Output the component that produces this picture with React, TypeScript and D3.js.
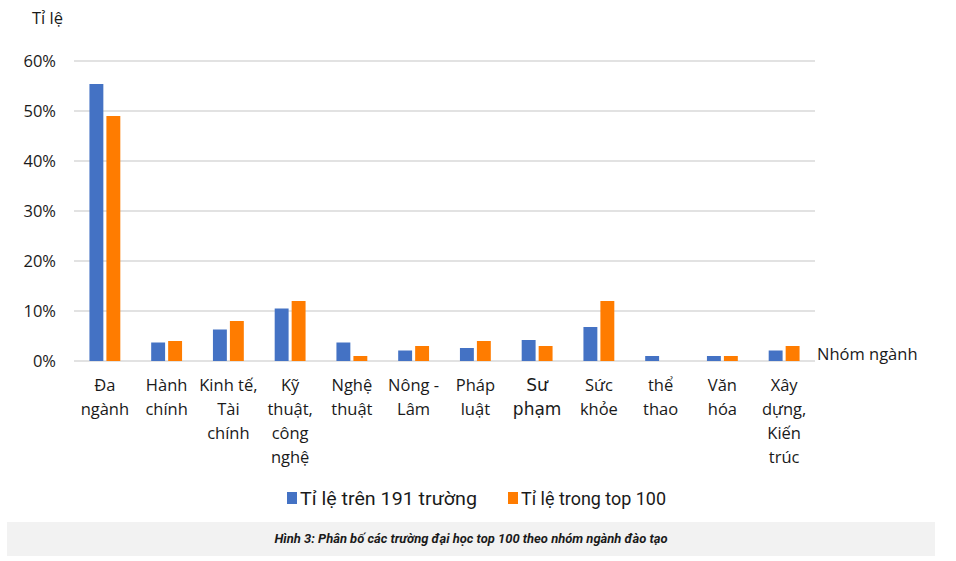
import { useEffect, useRef } from 'react';
import * as d3 from 'd3';

const CATEGORIES = [
  'Đa\nngành',
  'Hành\nchính',
  'Kinh tế,\nTài\nchính',
  'Kỹ\nthuật,\ncông\nnghệ',
  'Nghệ\nthuật',
  'Nông -\nLâm',
  'Pháp\nluật',
  'Sư\nphạm',
  'Sức\nkhỏe',
  'thể\nthao',
  'Văn\nhóa',
  'Xây\ndựng,\nKiến\ntrúc',
];

const SERIES = ['Tỉ lệ trên 191 trường', 'Tỉ lệ trong top 100'];
const ALL_191 = [55.4, 3.7, 6.3, 10.5, 3.7, 2.1, 2.6, 4.2, 6.8, 1.0, 1.0, 2.1];
const TOP_100 = [49, 4, 8, 12, 1, 3, 4, 3, 12, 0, 1, 3];
const Y_TICKS = [0, 10, 20, 30, 40, 50, 60];

const COLORS = ['#4472C4', '#FF7C00'];
const CAPTION = 'Hình 3: Phân bố các trường đại học top 100 theo nhóm ngành đào tạo';

const W = 956;
const H = 561;

export default function App() {
  const svgRef = useRef<SVGSVGElement>(null);

  useEffect(() => {
    const svg = d3.select(svgRef.current);
    if (!svg.node()) return;
    svg.selectAll('*').remove();

    const left = 74;
    const right = 815;
    const top = 61;
    const bottom = 361;
    const font = "'Open Sans', 'Noto Sans', sans-serif";
    const ink = '#1a1a1a';

    const x0 = d3.scaleBand<string>().domain(CATEGORIES).range([left, right]).paddingInner(0.5).paddingOuter(0.25);
    const x1 = d3.scaleBand<string>().domain(SERIES).range([0, x0.bandwidth()]).paddingInner(0.18);
    const y = d3.scaleLinear().domain([0, 60]).range([bottom, top]);

    svg.append('rect').attr('width', W).attr('height', H).attr('fill', '#fff');

    // gridlines
    svg
      .append('g')
      .selectAll('line')
      .data(Y_TICKS)
      .join('line')
      .attr('x1', left)
      .attr('x2', right)
      .attr('y1', (d) => y(d))
      .attr('y2', (d) => y(d))
      .attr('stroke', '#d9d9d9')
      .attr('stroke-width', 1.5);

    svg
      .append('g')
      .selectAll('text')
      .data(Y_TICKS)
      .join('text')
      .attr('x', 56)
      .attr('y', (d) => y(d) + 6)
      .attr('text-anchor', 'end')
      .attr('font-family', font)
      .attr('font-size', 16.5)
      .attr('fill', ink)
      .text((d) => `${d}%`);

    svg
      .append('text')
      .attr('x', 32)
      .attr('y', 24)
      .attr('font-family', font)
      .attr('font-size', 16.5)
      .attr('fill', ink)
      .text('Tỉ lệ');

    const values = [ALL_191, TOP_100];
    SERIES.forEach((s, si) => {
      svg
        .append('g')
        .selectAll('rect')
        .data(CATEGORIES.map((c, i) => ({ c, v: values[si][i] })))
        .join('rect')
        .attr('x', (d) => x0(d.c)! + x1(s)!)
        .attr('y', (d) => y(d.v))
        .attr('width', x1.bandwidth())
        .attr('height', (d) => bottom - y(d.v))
        .attr('fill', COLORS[si]);
    });

    // category labels
    const labels = svg.append('g');
    CATEGORIES.forEach((c) => {
      const cx = x0(c)! + x0.bandwidth() / 2;
      const t = labels
        .append('text')
        .attr('x', cx)
        .attr('y', 391)
        .attr('text-anchor', 'middle')
        .attr('font-family', c.startsWith('Sư') ? "'DejaVu Sans', sans-serif" : font)
        .attr('font-size', c.startsWith('Sư') ? 17 : 16.5)
        .attr('fill', ink);
      c.split('\n').forEach((line, i) => {
        t.append('tspan').attr('x', cx).attr('dy', i === 0 ? 0 : 24).text(line);
      });
    });

    svg
      .append('text')
      .attr('x', 817)
      .attr('y', 360)
      .attr('font-family', font)
      .attr('font-size', 16.5)
      .attr('fill', ink)
      .text('Nhóm ngành');

    // legend
    const legendX = [287, 508];
    const legendW = [177, 145];
    SERIES.forEach((s, i) => {
      svg
        .append('rect')
        .attr('x', legendX[i])
        .attr('y', 492)
        .attr('width', 10)
        .attr('height', 12)
        .attr('fill', COLORS[i]);
      svg
        .append('text')
        .attr('x', legendX[i] + 13)
        .attr('y', 505)
        .attr('font-family', 'Roboto, sans-serif')
        .attr('font-size', 19)
        .attr('fill', ink)
        .attr('textLength', legendW[i])
        .attr('lengthAdjust', 'spacingAndGlyphs')
        .text(s);
    });

    // caption band
    svg.append('rect').attr('x', 7).attr('y', 522).attr('width', 928).attr('height', 34).attr('fill', '#f2f2f2');
    svg
      .append('text')
      .attr('x', 471)
      .attr('y', 543)
      .attr('text-anchor', 'middle')
      .attr('font-family', 'Roboto, sans-serif')
      .attr('font-size', 12.5)
      .attr('font-weight', 'bold')
      .attr('font-style', 'italic')
      .attr('fill', ink)
      .attr('textLength', 393)
      .attr('lengthAdjust', 'spacingAndGlyphs')
      .text(CAPTION);
  }, []);

  return (
    <svg
      ref={svgRef}
      width={W}
      height={H}
      style={{ position: 'fixed', left: 0, top: 0 }}
      role="img"
      aria-label="Phân bố các trường đại học theo nhóm ngành"
    />
  );
}
